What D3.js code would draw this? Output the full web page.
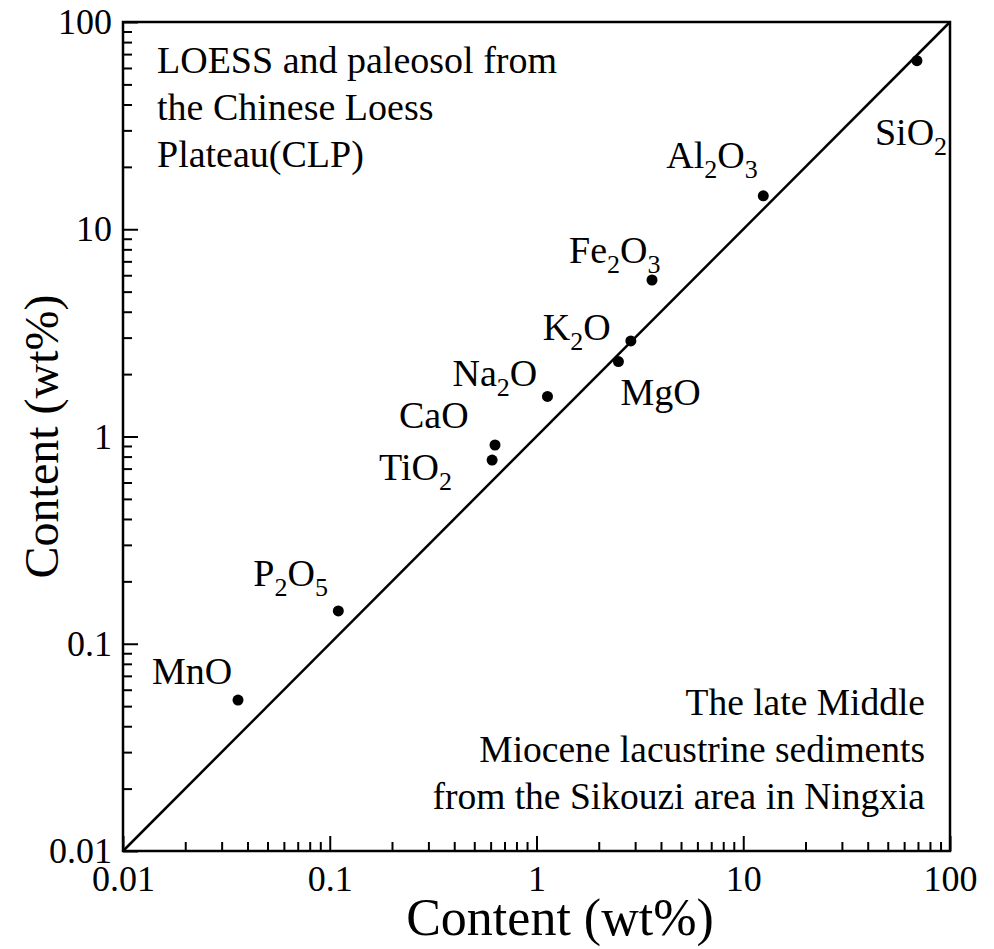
<!DOCTYPE html>
<html>
<head>
<meta charset="utf-8">
<script src="https://cdn.jsdelivr.net/npm/d3@7"></script>
<style>
    body { margin: 0; background: #fff; }
    svg { display: block; font-family: "Liberation Serif", "Times New Roman", serif; }
    .axis path { display: none; }
    .axis line { stroke: #000; stroke-width: 2; }
    .axis text { fill: #000; font-size: 36px; font-family: "Liberation Serif", serif; }
</style>
</head>
<body>
<svg width="994" height="949"></svg>
<script>
// oxide contents, x = Sikouzi lacustrine sediments, y = CLP loess/paleosol
const oxides = ["SiO2", "Al2O3", "Fe2O3", "K2O", "MgO", "Na2O", "CaO", "TiO2", "P2O5", "MnO"];
const contentX = [69.2, 12.5, 3.62, 2.86, 2.49, 1.13, 0.63, 0.61, 0.11, 0.036];
const contentY = [65.1, 14.5, 5.69, 2.89, 2.30, 1.56, 0.91, 0.77, 0.144, 0.0535];

const majorTicks = [0.01, 0.1, 1, 10, 100];
const tickLabels = ["0.01", "0.1", "1", "10", "100"];
const diagonal = [0.01, 100];

// label placement relative to the dot (px)
const labelOffset = {
    SiO2: [-42, 84], Al2O3: [-97, -28], Fe2O3: [-83, -17], K2O: [-88, -1],
    MgO: [2, 43], Na2O: [-95, -10], CaO: [-96, -17], TiO2: [-113, 20],
    P2O5: [-85, -25], MnO: [-86, -16]
};

const svg = d3.select("svg");
const plotLeft = 123, plotRight = 950, plotTop = 22, plotBottom = 851;

const x = d3.scaleLog().domain([0.01, 100]).range([plotLeft, plotRight]);
const y = d3.scaleLog().domain([0.01, 100]).range([plotBottom, plotTop]);

const minorTicks = x.ticks().filter(d => !majorTicks.includes(d));

// minor ticks
svg.append("g").attr("class", "axis")
    .attr("transform", `translate(0,${plotBottom})`)
    .call(d3.axisBottom(x).tickValues(minorTicks).tickSize(-9).tickSizeOuter(0).tickFormat(""));
svg.append("g").attr("class", "axis")
    .attr("transform", `translate(${plotLeft},0)`)
    .call(d3.axisLeft(y).tickValues(minorTicks).tickSize(-9).tickSizeOuter(0).tickFormat(""));

// major ticks + labels
svg.append("g").attr("class", "axis")
    .attr("transform", `translate(0,${plotBottom})`)
    .call(d3.axisBottom(x).tickValues(majorTicks).tickSize(-15).tickSizeOuter(0).tickPadding(14)
        .tickFormat((d, i) => tickLabels[i]));
svg.append("g").attr("class", "axis")
    .attr("transform", `translate(${plotLeft},0)`)
    .call(d3.axisLeft(y).tickValues(majorTicks).tickSize(-15).tickSizeOuter(0).tickPadding(11)
        .tickFormat((d, i) => tickLabels[i]));

// frame
svg.append("rect")
    .attr("x", plotLeft).attr("y", plotTop)
    .attr("width", plotRight - plotLeft).attr("height", plotBottom - plotTop)
    .attr("fill", "none").attr("stroke", "#000").attr("stroke-width", 2.5);

// 1:1 line
svg.append("line")
    .attr("x1", x(diagonal[0])).attr("y1", y(diagonal[0]))
    .attr("x2", x(diagonal[1])).attr("y2", y(diagonal[1]))
    .attr("stroke", "#000").attr("stroke-width", 2.5);

// dots
svg.selectAll(".dot")
    .data(oxides)
    .enter().append("circle")
    .attr("class", "dot")
    .attr("cx", (d, i) => x(contentX[i]))
    .attr("cy", (d, i) => y(contentY[i]))
    .attr("r", 5.5)
    .attr("fill", "#000");

// oxide labels with subscript digits
oxides.forEach((name, i) => {
    const off = labelOffset[name];
    const t = svg.append("text")
        .attr("x", x(contentX[i]) + off[0])
        .attr("y", y(contentY[i]) + off[1])
        .attr("font-size", 38);
    const parts = name.match(/[A-Za-z]+|\d+/g);
    let sub = false;
    parts.forEach(p => {
        const isNum = /\d/.test(p);
        const ts = t.append("tspan").text(p);
        if (isNum) {
            ts.attr("font-size", 26).attr("dy", 10);
            sub = true;
        } else if (sub) {
            ts.attr("dy", -10);
            sub = false;
        }
    });
});

// region notes
const noteTL = ["LOESS and paleosol from", "the Chinese Loess", "Plateau(CLP)"];
const noteBR = ["The late Middle", "Miocene lacustrine sediments", "from the Sikouzi area in Ningxia"];

svg.append("g").selectAll("text")
    .data(noteTL)
    .enter().append("text")
    .attr("x", 157)
    .attr("y", (d, i) => 73 + i * 47)
    .attr("font-size", 38)
    .text(d => d);

svg.append("g").selectAll("text")
    .data(noteBR)
    .enter().append("text")
    .attr("x", 925)
    .attr("y", (d, i) => 715 + i * 47)
    .attr("font-size", 37.5)
    .attr("text-anchor", "end")
    .text(d => d);

// axis titles
svg.append("text")
    .attr("x", 560).attr("y", 935)
    .attr("text-anchor", "middle")
    .attr("font-size", 52)
    .text("Content (wt%)");

svg.append("text")
    .attr("transform", `translate(58,${(plotTop + plotBottom) / 2}) rotate(-90)`)
    .attr("text-anchor", "middle")
    .attr("font-size", 48)
    .text("Content (wt%)");
</script>
</body>
</html>
